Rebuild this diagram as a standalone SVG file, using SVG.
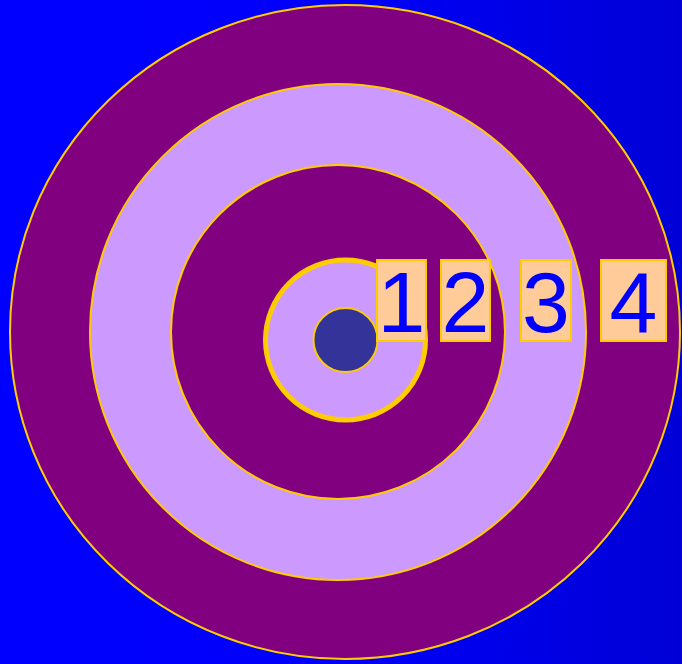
<svg xmlns="http://www.w3.org/2000/svg" width="682" height="664" viewBox="0 0 682 664">
<defs>
<linearGradient id="bg" x1="0" y1="0" x2="1" y2="0">
<stop offset="0" stop-color="#0000FF"/>
<stop offset="0.5" stop-color="#0000FA"/>
<stop offset="1" stop-color="#0000D6"/>
</linearGradient>
<style>
.ring{stroke:#FFCC00;stroke-width:2}
.purple{fill:#800080}
.lilac{fill:#CC99FF}
.box{fill:#FFCC99;stroke:#FFCC00;stroke-width:2}
.num{font-family:"Liberation Sans",Arial,sans-serif;font-size:86px;fill:#0000FF;text-anchor:middle}
</style>
</defs>
<rect x="0" y="0" width="682" height="664" fill="url(#bg)"/>
<g id="target">
<ellipse class="ring purple" cx="345" cy="332" rx="335" ry="327"/>
<circle class="ring lilac" cx="338" cy="332" r="248"/>
<circle class="ring purple" cx="338" cy="332" r="167"/>
<circle class="lilac" cx="345.5" cy="340" r="80" stroke="#FFCC00" stroke-width="5"/>
<circle class="ring" cx="345.5" cy="340" r="32" fill="#333399"/>
</g>
<g id="label1"><rect class="box" x="377" y="260" width="49" height="81"/><text class="num" x="401.5" y="332">1</text></g>
<g id="label2"><rect class="box" x="441" y="260" width="49" height="81"/><text class="num" x="465.5" y="332">2</text></g>
<g id="label3"><rect class="box" x="521" y="260" width="50" height="81"/><text class="num" x="546" y="332">3</text></g>
<g id="label4"><rect class="box" x="601" y="260" width="65" height="81"/><text class="num" x="633.5" y="332">4</text></g>
<g id="connectors"/>
</svg>
